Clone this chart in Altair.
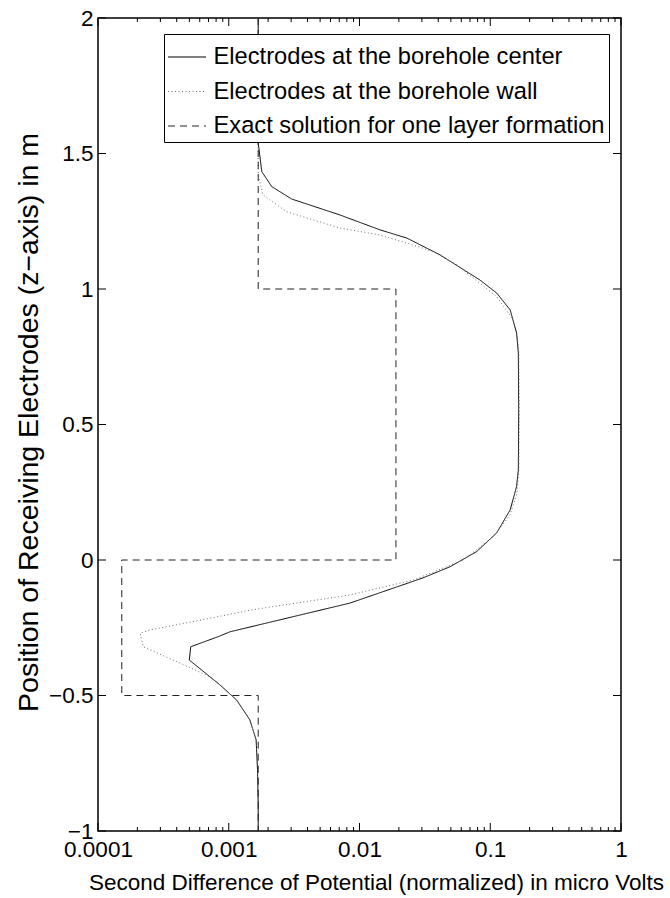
import altair as alt
import pandas as pd

# ---------------- data ----------------
series = [
    "Electrodes at the borehole center",
    "Electrodes at the borehole wall",
    "Exact solution for one layer formation",
]

center_z = [2.0, 1.8, 1.6, 1.539, 1.433, 1.378, 1.332, 1.273, 1.218, 1.188,
            1.126, 1.033, 0.985, 0.923, 0.838, 0.764, 0.55, 0.332, 0.271, 0.185,
            0.100, 0.031, -0.025, -0.066, -0.159, -0.265, -0.283, -0.320, -0.369, -0.461,
            -0.517, -0.590, -0.664, -0.775, -0.9, -1.0]
center_x = [0.00168, 0.00168, 0.00168, 0.00168, 0.00179, 0.00213, 0.00303, 0.0071, 0.0144, 0.0230,
            0.0413, 0.0835, 0.112, 0.142, 0.159, 0.164, 0.165, 0.164, 0.159, 0.142,
            0.112, 0.0787, 0.0492, 0.0306, 0.00845, 0.00102, 0.00083, 0.000512, 0.000499, 0.000857,
            0.00115, 0.00145, 0.00162, 0.00166, 0.00168, 0.00168]

wall_z = [2.0, 1.8, 1.6, 1.421, 1.347, 1.285, 1.225, 1.199, 1.188, 1.162,
          1.138, 1.089, 0.972, 0.886, 0.824, 0.764, 0.55, 0.332, 0.246, 0.166,
          0.086, 0.0, -0.074, -0.129, -0.185, -0.209, -0.258, -0.2705, -0.32, -0.375,
          -0.431, -0.461, -0.517, -0.590, -0.664, -0.775, -0.9, -1.0]
wall_x = [0.00168, 0.00168, 0.00168, 0.00168, 0.00183, 0.00277, 0.0071, 0.0144, 0.0171, 0.0258,
          0.0365, 0.0553, 0.112, 0.150, 0.161, 0.1655, 0.1665, 0.1655, 0.160, 0.1416,
          0.1055, 0.0622, 0.0258, 0.00845, 0.00145, 0.00083, 0.00025, 0.00021, 0.000222, 0.0004,
          0.00072, 0.000857, 0.00115, 0.00145, 0.00162, 0.00166, 0.00168, 0.00168]

exact_z = [2.0, 1.0, 1.0, 0.0, 0.0, -0.5, -0.5, -1.0]
exact_x = [0.00168, 0.00168, 0.019, 0.019, 0.000152, 0.000152, 0.00168, 0.00168]

x_major = [0.0001, 0.001, 0.01, 0.1, 1.0]
x_minor = [m * d for d in [0.0001, 0.001, 0.01, 0.1] for m in range(2, 10)]
y_major = [-1.0, -0.5, 0.0, 0.5, 1.0, 1.5, 2.0]

x_title = "Second Difference of Potential (normalized) in micro Volts"
y_title = "Position of Receiving Electrodes (z\u2212axis) in m"

colors = ["#000000", "#707070", "#222222"]
dashes = [[1, 0], [1, 2.5], [7, 5]]

# ---------------- build tables ----------------
rows = []
for name, xs, zs in zip(series, [center_x, wall_x, exact_x], [center_z, wall_z, exact_z]):
    for i, (xv, zv) in enumerate(zip(xs, zs)):
        rows.append({"x": xv, "z": zv, "series": name, "order": i})
df = pd.DataFrame(rows)

W, H = 523, 813
FONT = "Liberation Sans"

x_scale = alt.Scale(type="log", domain=[0.0001, 1], nice=False)
y_scale = alt.Scale(domain=[-1, 2], nice=False, zero=False)

legend = alt.Legend(
    title=None, orient="none", legendX=66, legendY=16,
    fillColor="white", strokeColor="black", padding=3.5,
    symbolType="stroke", symbolSize=1444, symbolStrokeWidth=1,
    labelFont=FONT, labelFontSize=23.7, labelColor="black",
    rowPadding=2.5, labelOffset=7, labelLimit=0,
)

lines = alt.Chart(df).mark_line(strokeWidth=1, clip=True).encode(
    x=alt.X("x:Q", scale=x_scale, axis=alt.Axis(
        values=x_major, format="~g", title=x_title, grid=False, domain=False,
        tickSize=0, labelPadding=7, labelFont=FONT, labelFontSize=22.5,
        labelColor="black", labelFlush=False,
        titleFont=FONT, titleFontSize=22.5, titleFontWeight="normal", titleColor="black",
        titleX=278, titleY=58, titleAlign="center", titleBaseline="alphabetic",
    )),
    y=alt.Y("z:Q", scale=y_scale, axis=alt.Axis(
        values=y_major, format="~g", title=y_title, grid=False, domain=False,
        tickSize=0, labelPadding=5, labelFont=FONT, labelFontSize=22.5,
        labelColor="black", labelFlush=False,
        titleFont=FONT, titleFontSize=28.5, titleFontWeight="normal", titleColor="black",
        titleX=-61, titleY=404, titleAngle=270, titleAlign="center", titleBaseline="alphabetic",
    )),
    color=alt.Color("series:N", scale=alt.Scale(domain=series, range=colors), legend=legend),
    strokeDash=alt.StrokeDash("series:N", scale=alt.Scale(domain=series, range=dashes), legend=legend),
    order="order:Q",
)

xmaj = pd.DataFrame({"x": x_major})
xmin = pd.DataFrame({"x": x_minor})
ymaj = pd.DataFrame({"z": y_major})

def xticks(data, length):
    bottom = alt.Chart(data).mark_rule(color="black", strokeWidth=1).encode(
        x=alt.X("x:Q", scale=x_scale), y=alt.value(H), y2=alt.value(H - length))
    top = alt.Chart(data).mark_rule(color="black", strokeWidth=1).encode(
        x=alt.X("x:Q", scale=x_scale), y=alt.value(0), y2=alt.value(length))
    return [bottom, top]

yl = alt.Chart(ymaj).mark_rule(color="black", strokeWidth=1).encode(
    y=alt.Y("z:Q", scale=y_scale), x=alt.value(0), x2=alt.value(8))
yr = alt.Chart(ymaj).mark_rule(color="black", strokeWidth=1).encode(
    y=alt.Y("z:Q", scale=y_scale), x=alt.value(W), x2=alt.value(W - 8))

chart = alt.layer(
    *xticks(xmaj, 8), *xticks(xmin, 4), yl, yr, lines
).properties(
    width=W, height=H,
    autosize=alt.AutoSizeParams(type="none"),
    padding={"left": 98, "top": 18, "right": 49, "bottom": 67},
).configure_view(
    stroke="black", strokeWidth=1.5
)

chart.save("out.html", embed_options={"renderer": "svg", "actions": False})
